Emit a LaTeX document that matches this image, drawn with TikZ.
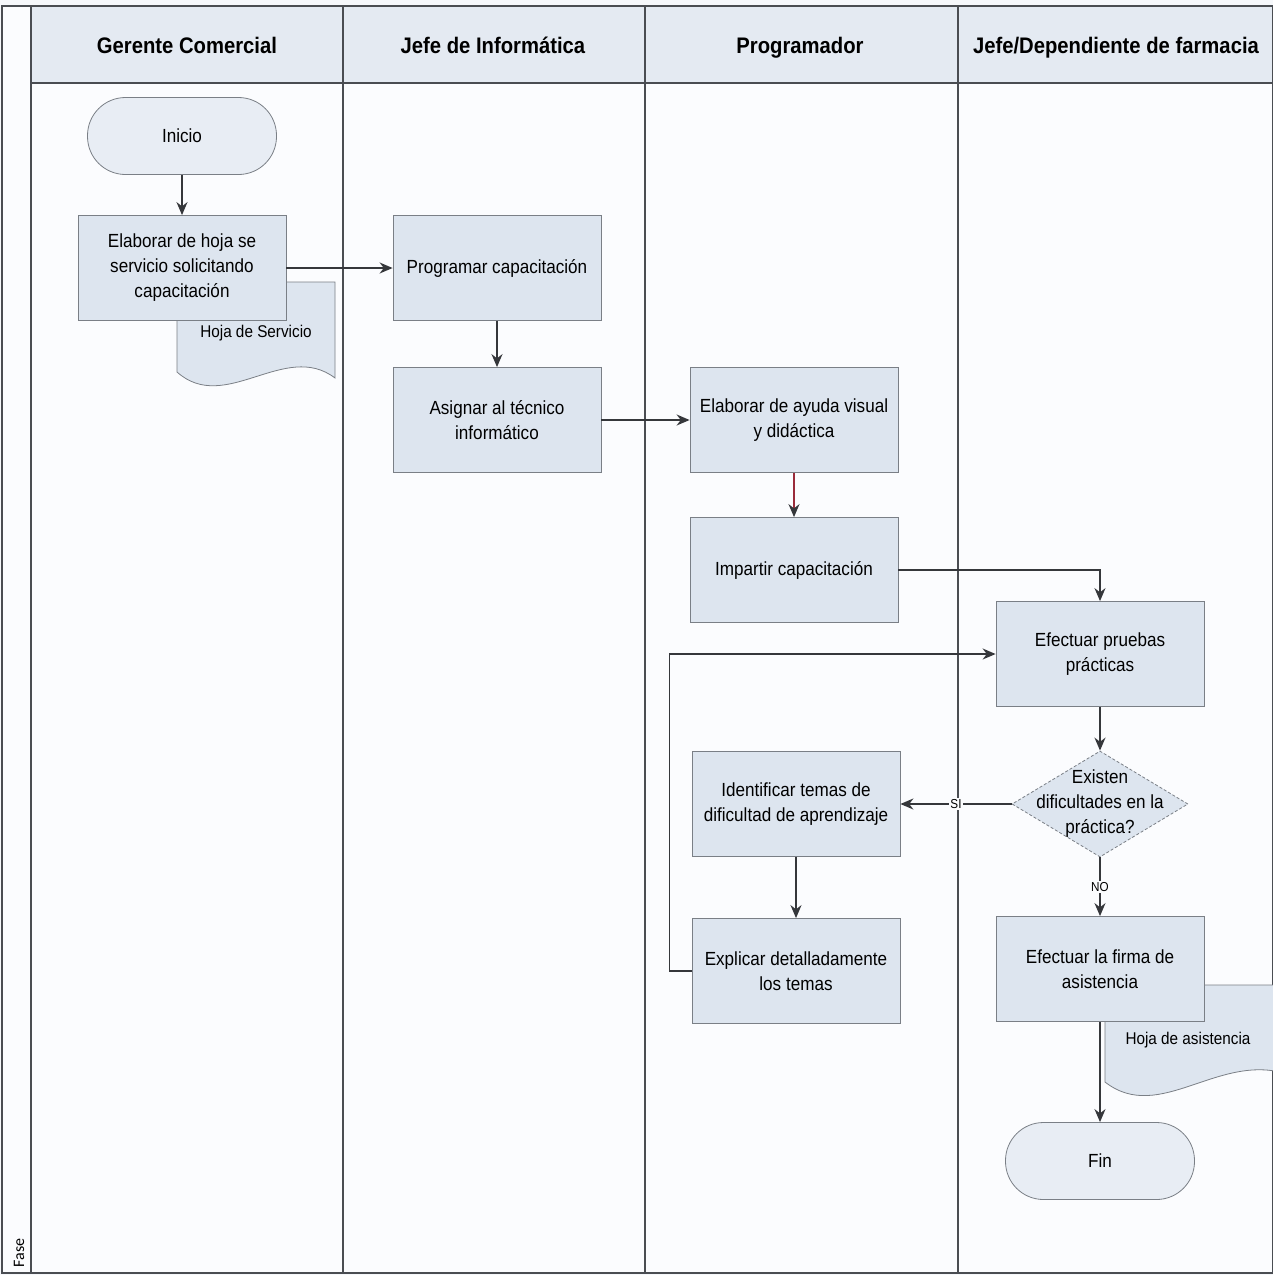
\documentclass[tikz,border=0pt]{standalone}
\usepackage{fontspec}
\setmainfont{Liberation Sans}[FakeStretch=0.9]
\newfontfamily\fasefont{Carlito}
\usetikzlibrary{arrows.meta,shapes.geometric}

\definecolor{pagebg}{HTML}{F6F8FB}
\definecolor{lanebg}{HTML}{FBFCFE}
\definecolor{headbg}{HTML}{E4EAF2}
\definecolor{boxfill}{HTML}{DDE5EF}
\definecolor{termfill}{HTML}{E8EDF4}
\definecolor{boxline}{HTML}{7A7F86}
\definecolor{laneline}{HTML}{4A4D52}
\definecolor{flowgray}{HTML}{35373B}
\definecolor{flowred}{HTML}{9A2B3A}

\tikzset{
  proc/.style={draw=boxline, fill=boxfill, line width=0.8pt,
    minimum width=208pt, minimum height=105pt, inner sep=2pt,
    align=center, font=\fontsize{19}{25}\selectfont},
  term/.style={draw=boxline, fill=termfill, line width=0.8pt,
    rounded corners=38pt, minimum width=189pt, minimum height=77pt,
    inner sep=2pt, align=center, font=\fontsize{19}{25}\selectfont},
  decision/.style={diamond, draw=boxline, fill=boxfill, line width=0.8pt,
    dash pattern=on 3pt off 2pt, minimum width=176pt, minimum height=106pt, inner sep=0pt},
  txt/.style={align=center, font=\fontsize{19}{25}\selectfont},
  doctxt/.style={font=\fontsize{17}{21}\selectfont},
  docshape/.style={draw=boxline, fill=boxfill, line width=0.8pt},
  head/.style={anchor=base, font=\bfseries\fontsize{22.5}{27}\selectfont},
  flow/.style={draw=flowgray, line width=1.7pt,
    -{Stealth[length=13pt,width=11pt,color=flowgray]}},
  lbl/.style={fill=lanebg, inner sep=1.5pt, font=\fontsize{13}{15}\selectfont},
  lane/.style={draw=laneline, line width=1.3pt}
}

\begin{document}
\begin{tikzpicture}[x=1pt,y=-1pt]
\useasboundingbox (0,0) rectangle (1273,1275);
\fill[pagebg] (0,0) rectangle (1273,1275);

% lanes and header row
\fill[lanebg] (31,83) rectangle (1273,1273);
\fill[headbg] (31,6) rectangle (1273,83);
\fill[lanebg] (2,6) rectangle (31,1273);
\draw[lane] (2,6) rectangle (1273,1273);
\draw[lane] (31,6) -- (31,1273);
\draw[lane] (31,83) -- (1273,83);
\foreach \lx in {343,645,958} \draw[lane] (\lx,6) -- (\lx,1273);

\node[head] (h1) at (187,53) {Gerente Comercial};
\node[head] (h2) at (493,53) {Jefe de Informática};
\node[head] (h3) at (800,53) {Programador};
\node[head] (h4) at (1116,53) {Jefe/Dependiente de farmacia};
\node[rotate=90, font=\fasefont\fontsize{16}{18}\selectfont] (fase) at (19,1253) {Fase};

% documents (drawn behind their process boxes)
\draw[docshape] (177,282) -- (335,282) -- (335,378)
  .. controls (285,340) and (225,415) .. (177,372) -- cycle;
\node[doctxt] (hserv) at (256,333) {Hoja de Servicio};

\begin{scope}
\clip (2,6) rectangle (1273,1273);
\draw[docshape] (1105,985) -- (1290,985) -- (1290,1075)
  .. controls (1220,1050) and (1160,1125) .. (1105,1082) -- cycle;
\end{scope}
\node[doctxt] (hasis) at (1188,1040) {Hoja de asistencia};

% process steps
\node[term] (inicio) at (182,136) {Inicio};
\node[proc] (elab) at (182,268) {Elaborar de hoja se\\servicio solicitando\\capacitación};
\node[proc] (prog) at (497,268) {Programar capacitación};
\node[proc] (asig) at (497,420) {Asignar al técnico\\informático};
\node[proc] (ayuda) at (794,420) {Elaborar de ayuda visual\\y didáctica};
\node[proc] (imp) at (794,570) {Impartir capacitación};
\node[proc] (prue) at (1100,654) {Efectuar pruebas\\prácticas};
\node[decision] (dec) at (1100,804) {};
\node[txt] (dectxt) at (1100,804) {Existen\\dificultades en la\\práctica?};
\node[proc] (ident) at (796,804) {Identificar temas de\\dificultad de aprendizaje};
\node[proc] (expl) at (796,971) {Explicar detalladamente\\los temas};
\node[proc] (firma) at (1100,969) {Efectuar la firma de\\asistencia};
\node[term] (fin) at (1100,1161) {Fin};

% connectors
\draw[flow] (inicio) -- (elab);
\draw[flow] (elab) -- (prog);
\draw[flow] (prog) -- (asig);
\draw[flow] (asig) -- (ayuda);
\draw[flow, draw=flowred] (ayuda) -- (imp);
\draw[flow] (imp.east) -| (prue.north);
\draw[flow] (prue) -- (dec);
\draw[flow] (dec.west) -- node[lbl] {SI} (ident.east);
\draw[flow] (dec.south) -- node[lbl] {NO} (firma.north);
\draw[flow] (ident) -- (expl);
\draw[flow] (expl.west) -- ++(-22,0) |- (prue.west);
\draw[flow] (firma) -- (fin);
\end{tikzpicture}
\end{document}
